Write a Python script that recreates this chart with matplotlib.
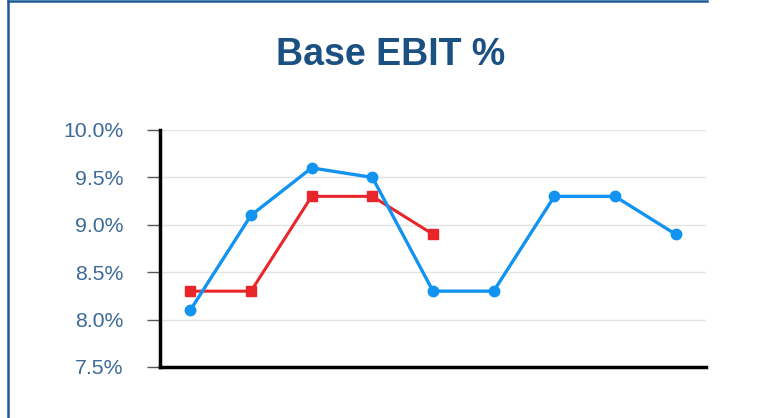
import matplotlib
matplotlib.use("Agg")
import matplotlib.pyplot as plt
from matplotlib.lines import Line2D
from matplotlib.ticker import FuncFormatter

plt.rcParams['font.family'] = ['Liberation Sans', 'DejaVu Sans']

periods = list(range(9))
base_ebit = [8.1, 9.1, 9.6, 9.5, 8.3, 8.3, 9.3, 9.3, 8.9]
comparison = [8.3, 8.3, 9.3, 9.3, 8.9]
y_ticks = [7.5, 8.0, 8.5, 9.0, 9.5, 10.0]

W, H = 765, 418
fig = plt.figure(figsize=(W / 100, H / 100), dpi=100)
ax = fig.add_axes([160 / W, 1 - 367 / H, 546 / W, 237 / H])

ax.plot(periods, base_ebit, color='#1393F0', lw=2.4, marker='o', ms=7.5,
        zorder=4, solid_capstyle='round')
ax.plot(periods[:len(comparison)], comparison, color='#E8262A', lw=2.2,
        marker='s', ms=7.5, zorder=3)

ax.set_xlim(-0.5, 8.5)
ax.set_ylim(7.5, 10.0)
ax.set_yticks(y_ticks)
ax.yaxis.set_major_formatter(FuncFormatter(lambda v, _: f"{v:.1f}%"))
ax.set_xticks([])
ax.grid(axis='y', color='#E3E3E3', lw=1.0)
ax.set_axisbelow(True)

for s in ('top', 'right'):
    ax.spines[s].set_visible(False)
for s in ('left', 'bottom'):
    ax.spines[s].set_color('black')
    ax.spines[s].set_linewidth(2.5)
ax.tick_params(axis='y', length=9.5, width=1, color='#555555', pad=17,
               labelsize=15.3, labelcolor='#3C6A96')

fig.text(391 / W, 1 - 55 / H, 'Base EBIT %', ha='center', va='center',
         fontsize=27, fontweight='bold', color='#1B5083')

# panel border along the left and top edges
fig.add_artist(Line2D([7.5 / W, 7.5 / W], [0, 1 - 1 / H], transform=fig.transFigure,
                      color='#1F5A96', lw=1.8))
fig.add_artist(Line2D([7.5 / W, 707 / W], [1 - 1 / H, 1 - 1 / H], transform=fig.transFigure,
                      color='#1F5A96', lw=1.8))

fig.savefig('out.png', dpi=100)
